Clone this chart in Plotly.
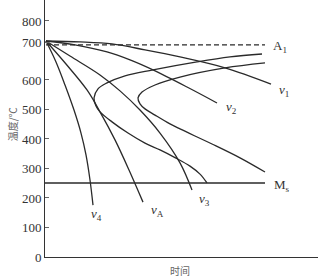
import plotly.graph_objects as go

# ---- data (time in arbitrary units, temperature in axis units) ----
v1_t = [1, 35, 67, 100, 135, 180, 226]
v1_T = [732, 729, 722, 702, 678, 641, 586]

v2_t = [1, 30, 62, 85, 108, 142, 172]
v2_T = [732, 719, 695, 668, 634, 576, 522]

v3_t = [1, 25, 55, 75, 95, 115, 135, 147]
v3_T = [732, 681, 617, 563, 498, 420, 319, 227]

vA_t = [1, 21, 42, 55, 70, 84, 98]
vA_T = [732, 654, 566, 492, 397, 295, 186]

v4_t = [1, 11, 20, 29, 36, 41, 45, 48]
v4_T = [732, 661, 583, 498, 420, 346, 261, 176]

c1_t = [217, 185, 152, 108, 80, 62, 53, 49, 51, 55, 67, 83, 100, 115, 130, 145, 155, 162]
c1_T = [688, 678, 661, 634, 614, 590, 570, 539, 512, 492, 458, 420, 386, 363, 337, 308, 281, 251]

c2_t = [220, 180, 135, 110, 97, 93, 95, 100, 110, 125, 135, 167, 195, 220]
c2_T = [658, 641, 610, 583, 559, 539, 519, 502, 481, 451, 434, 383, 336, 288]

A1_t = [1, 220]
A1_T = [719, 719]

Ms_t = [0, 220]
Ms_T = [251, 251]

tick_vals = [0, 100, 200, 300, 400, 500, 600, 728, 800]
tick_text = ["0", "100", "200", "300", "400", "500", "600", "700", "800"]

labels = [
    ("A<sub>1</sub>", 235, 712),
    ("M<sub>s</sub>", 237, 242),
    ("<i>v</i><sub>1</sub>", 239, 565),
    ("<i>v</i><sub>2</sub>", 186, 505),
    ("<i>v</i><sub>3</sub>", 159, 194),
    ("<i>v</i><sub>A</sub>", 112, 158),
    ("<i>v</i><sub>4</sub>", 51, 143),
]

LC = "#2a2a2a"
fig = go.Figure()
for t, T in [(v1_t, v1_T), (v2_t, v2_T), (v3_t, v3_T), (vA_t, vA_T), (v4_t, v4_T),
             (c1_t, c1_T), (c2_t, c2_T)]:
    fig.add_trace(go.Scatter(x=t, y=T, mode="lines",
                             line=dict(color=LC, width=1.3, shape="spline", smoothing=1.0),
                             hoverinfo="skip", showlegend=False))
fig.add_trace(go.Scatter(x=A1_t, y=A1_T, mode="lines",
                         line=dict(color=LC, width=1.1, dash="5px,3px"),
                         hoverinfo="skip", showlegend=False))
fig.add_trace(go.Scatter(x=Ms_t, y=Ms_T, mode="lines",
                         line=dict(color=LC, width=1.4),
                         hoverinfo="skip", showlegend=False))

for txt, t, T in labels:
    fig.add_annotation(x=t, y=T, text=txt, showarrow=False,
                       font=dict(family="Liberation Serif", size=13, color="#333"),
                       xanchor="center", yanchor="middle")

fig.add_annotation(xref="paper", yref="paper", x=0, y=0.517, xshift=-33,
                   text="温度/℃", textangle=-90, showarrow=False,
                   font=dict(family="Noto Sans CJK SC", size=10, color="#666"),
                   xanchor="center", yanchor="middle")
fig.add_annotation(xref="paper", yref="paper", x=0.495, y=0, yshift=-4,
                   text="时间", showarrow=False,
                   font=dict(family="Noto Sans CJK SC", size=10, color="#666"),
                   xanchor="center", yanchor="top")

fig.update_layout(
    width=318, height=278,
    margin=dict(l=45, r=0, t=0, b=21),
    paper_bgcolor="white", plot_bgcolor="white",
    xaxis=dict(range=[0, 273], showgrid=False, zeroline=False, showline=True,
               linecolor="#333", linewidth=1, showticklabels=False, ticks=""),
    yaxis=dict(range=[0, 871], showgrid=False, zeroline=False, showline=True,
               linecolor="#333", linewidth=1, ticks="inside", ticklen=4,
               tickcolor="#666", tickvals=tick_vals, ticktext=tick_text,
               tickfont=dict(family="Liberation Serif", size=13, color="#333")),
)

fig.write_html("out.html")
